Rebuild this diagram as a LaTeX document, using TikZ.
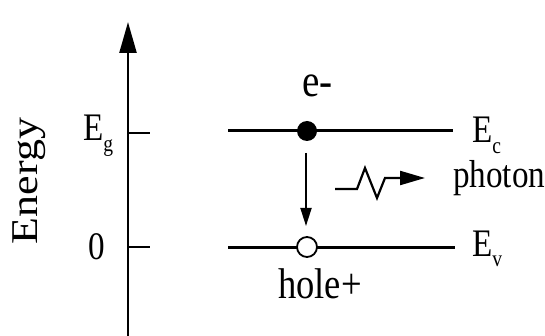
\documentclass[tikz,border=0pt]{standalone}
\usepackage{fontspec}
\setmainfont{Liberation Serif}
\usetikzlibrary{arrows.meta}
\newcommand{\sq}[1]{\scalebox{0.85}[1]{#1}}
\newcommand{\subt}[1]{\raisebox{-0.26em}{\fontsize{23}{23}\selectfont #1}}
\begin{document}
\begin{tikzpicture}[x=1pt,y=-1pt,
  lab/.style={inner sep=0pt, font=\fontsize{39}{39}\selectfont},
  level/.style={line width=3pt},
  tick/.style={line width=1.7pt}]
\useasboundingbox (0,0) rectangle (545,336);
% axis
\coordinate (ab) at (128,336);
\coordinate (at) at (128,22);
\draw[line width=2.3pt,-{Triangle[length=31pt,width=17pt]}] (ab) -- (at);
\coordinate (t1a) at (129,133); \coordinate (t1b) at (150,133);
\coordinate (t0a) at (129,247); \coordinate (t0b) at (150,247);
\draw[tick] (t1a) -- (t1b);
\draw[tick] (t0a) -- (t0b);
\node[lab, rotate=90, font=\fontsize{44}{44}\selectfont] (energy) at (29,181) {\scalebox{1}[0.86]{Energy}};
\node[lab, anchor=base west] (eg) at (83,141) {\sq{E\subt{g}}};
\node[lab] (zero) at (97,247) {\sq{0}};
% levels
\coordinate (c1) at (228,131); \coordinate (c2) at (453,131);
\coordinate (v1) at (228,248); \coordinate (v2) at (455,248);
\draw[level] (c1) -- (c2);
\draw[level] (v1) -- (v2);
\node[circle, fill=black, inner sep=0pt, minimum size=20pt] (el) at (307,131) {};
\node[circle, draw=black, fill=white, line width=1.8pt, inner sep=0pt, minimum size=20pt] (ho) at (307,247) {};
% transition arrow
\coordinate (d1) at (306,153); \coordinate (d2) at (306,226);
\draw[line width=1.8pt,-{Triangle[length=18pt,width=11pt]}] (d1) -- (d2);
% photon
\coordinate (p0) at (335,189);
\coordinate (p5) at (425,178);
\draw[line width=2.2pt, line join=miter,-{Triangle[length=25pt,width=14pt]}] (p0) -- (357,189) -- (365,168) -- (377,198) -- (385,178) -- (400,178) -- (p5);
% labels
\node[lab, anchor=base west, font=\fontsize{46}{46}\selectfont] (em) at (302,97) {\sq{e-}};
\node[lab, anchor=base west] (ec) at (472,143) {\sq{E\subt{c}}};
\node[lab, anchor=base west] (ph) at (453,188) {\sq{photon}};
\node[lab, anchor=base west] (ev) at (472,256) {\sq{E\subt{v}}};
\node[lab, anchor=base, font=\fontsize{43}{43}\selectfont] (hl) at (320,298) {\sq{hole+}};
\end{tikzpicture}
\end{document}
